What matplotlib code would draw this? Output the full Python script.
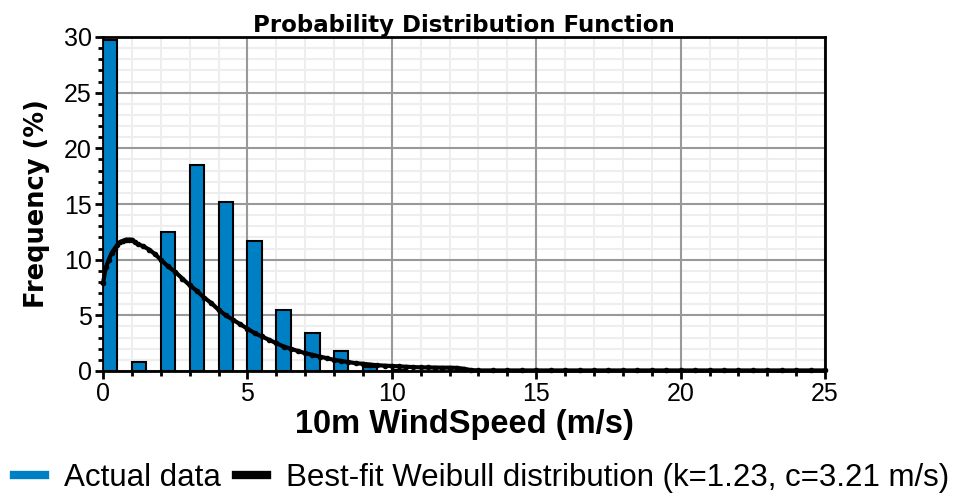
"""Wind speed PDF: measured histogram against a best-fit Weibull curve."""

import matplotlib
matplotlib.use("Agg")
import matplotlib.pyplot as plt
from matplotlib.lines import Line2D
from matplotlib.ticker import MultipleLocator

plt.rcParams["font.family"] = ["Liberation Sans", "DejaVu Sans"]

# histogram bins (left edges, m/s) and frequency (%)
bin_left = [0, 1, 2, 3, 4, 5, 6, 7, 8, 9, 10]
bin_freq = [29.7, 0.8, 12.5, 18.5, 15.2, 11.7, 5.5, 3.4, 1.8, 0.4, 0.1]

# best-fit Weibull curve
fit_x = [0.0, 0.1, 0.2, 0.3, 0.4, 0.5, 0.6, 0.7, 0.8, 0.9, 1.0, 1.1, 1.2,
         1.4, 1.6, 1.8, 2.0, 2.25, 2.5, 2.75, 3.0, 3.25, 3.5, 3.75, 4.0,
         4.25, 4.5, 4.75, 5.0, 5.25, 5.5, 5.75, 6.0, 6.25, 6.5, 6.75, 7.0,
         7.25, 7.5, 7.75, 8.0, 8.25, 8.5, 8.75, 9.0, 9.25, 9.5, 9.75, 10.0,
         10.25, 10.5, 10.75, 11.0, 11.25, 11.5, 11.75, 12.0, 12.25, 12.5,
         12.75, 13.0, 13.5, 14.0, 14.5, 15.0, 15.5, 16.0, 16.5, 17.0, 17.5,
         18.0, 18.5, 19.0, 19.5, 20.0, 20.5, 21.0, 21.5, 22.0, 22.5, 23.0,
         23.5, 24.0, 24.5, 25.0]
fit_y = [7.9, 9.3, 10.0, 10.6, 11.0, 11.3, 11.6, 11.7, 11.8, 11.8, 11.8,
         11.6, 11.4, 11.2, 10.9, 10.5, 10.0, 9.4, 8.9, 8.3, 7.7, 7.2, 6.6,
         6.1, 5.5, 5.0, 4.6, 4.2, 3.8, 3.4, 3.1, 2.8, 2.5, 2.2, 2.0, 1.8,
         1.6, 1.45, 1.3, 1.15, 1.0, 0.9, 0.8, 0.7, 0.65, 0.58, 0.52, 0.48,
         0.45, 0.42, 0.38, 0.35, 0.33, 0.32, 0.31, 0.3, 0.3, 0.28, 0.2,
         0.08, 0.05, 0.05, 0.05, 0.05, 0.05, 0.05, 0.05, 0.05, 0.05, 0.05,
         0.05, 0.05, 0.05, 0.05, 0.05, 0.05, 0.05, 0.05, 0.05, 0.05, 0.05,
         0.05, 0.05, 0.05, 0.05]

BAR_COLOR = "#0080c4"
WIDE_BOLD = {"family": ["DejaVu Sans"], "fontweight": "bold"}

fig = plt.figure(figsize=(9.59, 5.0), dpi=100)
ax = fig.add_axes([0.1074, 0.258, 0.7529, 0.668])

ax.bar(bin_left, bin_freq, width=0.5, align="edge", color=BAR_COLOR,
       edgecolor="black", linewidth=1.5, zorder=3)
ax.plot(fit_x, fit_y, color="black", linewidth=3, marker="o",
        markersize=3, zorder=4, clip_on=False)

ax.set_xlim(0, 25)
ax.set_ylim(0, 30)
ax.xaxis.set_major_locator(MultipleLocator(5))
ax.xaxis.set_minor_locator(MultipleLocator(1))
ax.yaxis.set_major_locator(MultipleLocator(5))
ax.yaxis.set_minor_locator(MultipleLocator(1))

# light minor grid underneath, darker major grid on top of it
ax.set_axisbelow(True)
ax.vlines(ax.xaxis.get_minorticklocs(), 0, 30, color="#eeeeee",
          linewidth=1.5, zorder=0.1)
ax.hlines(ax.yaxis.get_minorticklocs(), 0, 25, color="#eeeeee",
          linewidth=1.5, zorder=0.1)
ax.grid(True, which="major", color="#999999", linewidth=1.5)

for side in ax.spines.values():
    side.set_linewidth(2)
    side.set_color("black")
ax.tick_params(which="major", direction="out", length=6, width=2,
               labelsize=18, pad=2)
ax.tick_params(which="minor", direction="out", length=3.5, width=2)

ax.set_title("Probability Distribution Function", fontsize=16.5, pad=3,
             **WIDE_BOLD)
ax.set_xlabel("10m WindSpeed (m/s)", fontsize=23.5, fontweight="bold",
              labelpad=2)
ax.set_ylabel("Frequency (%)", fontsize=18.5, labelpad=10, **WIDE_BOLD)

handles = [Line2D([], [], color=BAR_COLOR, linewidth=6),
           Line2D([], [], color="black", linewidth=6)]
fig.legend(handles, ["Actual data",
                     "Best-fit Weibull distribution (k=1.23, c=3.21 m/s)"],
           loc="center", bbox_to_anchor=(0.502, 0.044), ncol=2,
           frameon=False, fontsize=22.5, handlelength=1.0,
           handletextpad=0.6, columnspacing=0.5, borderaxespad=0)

fig.savefig("out.png", dpi=100)
